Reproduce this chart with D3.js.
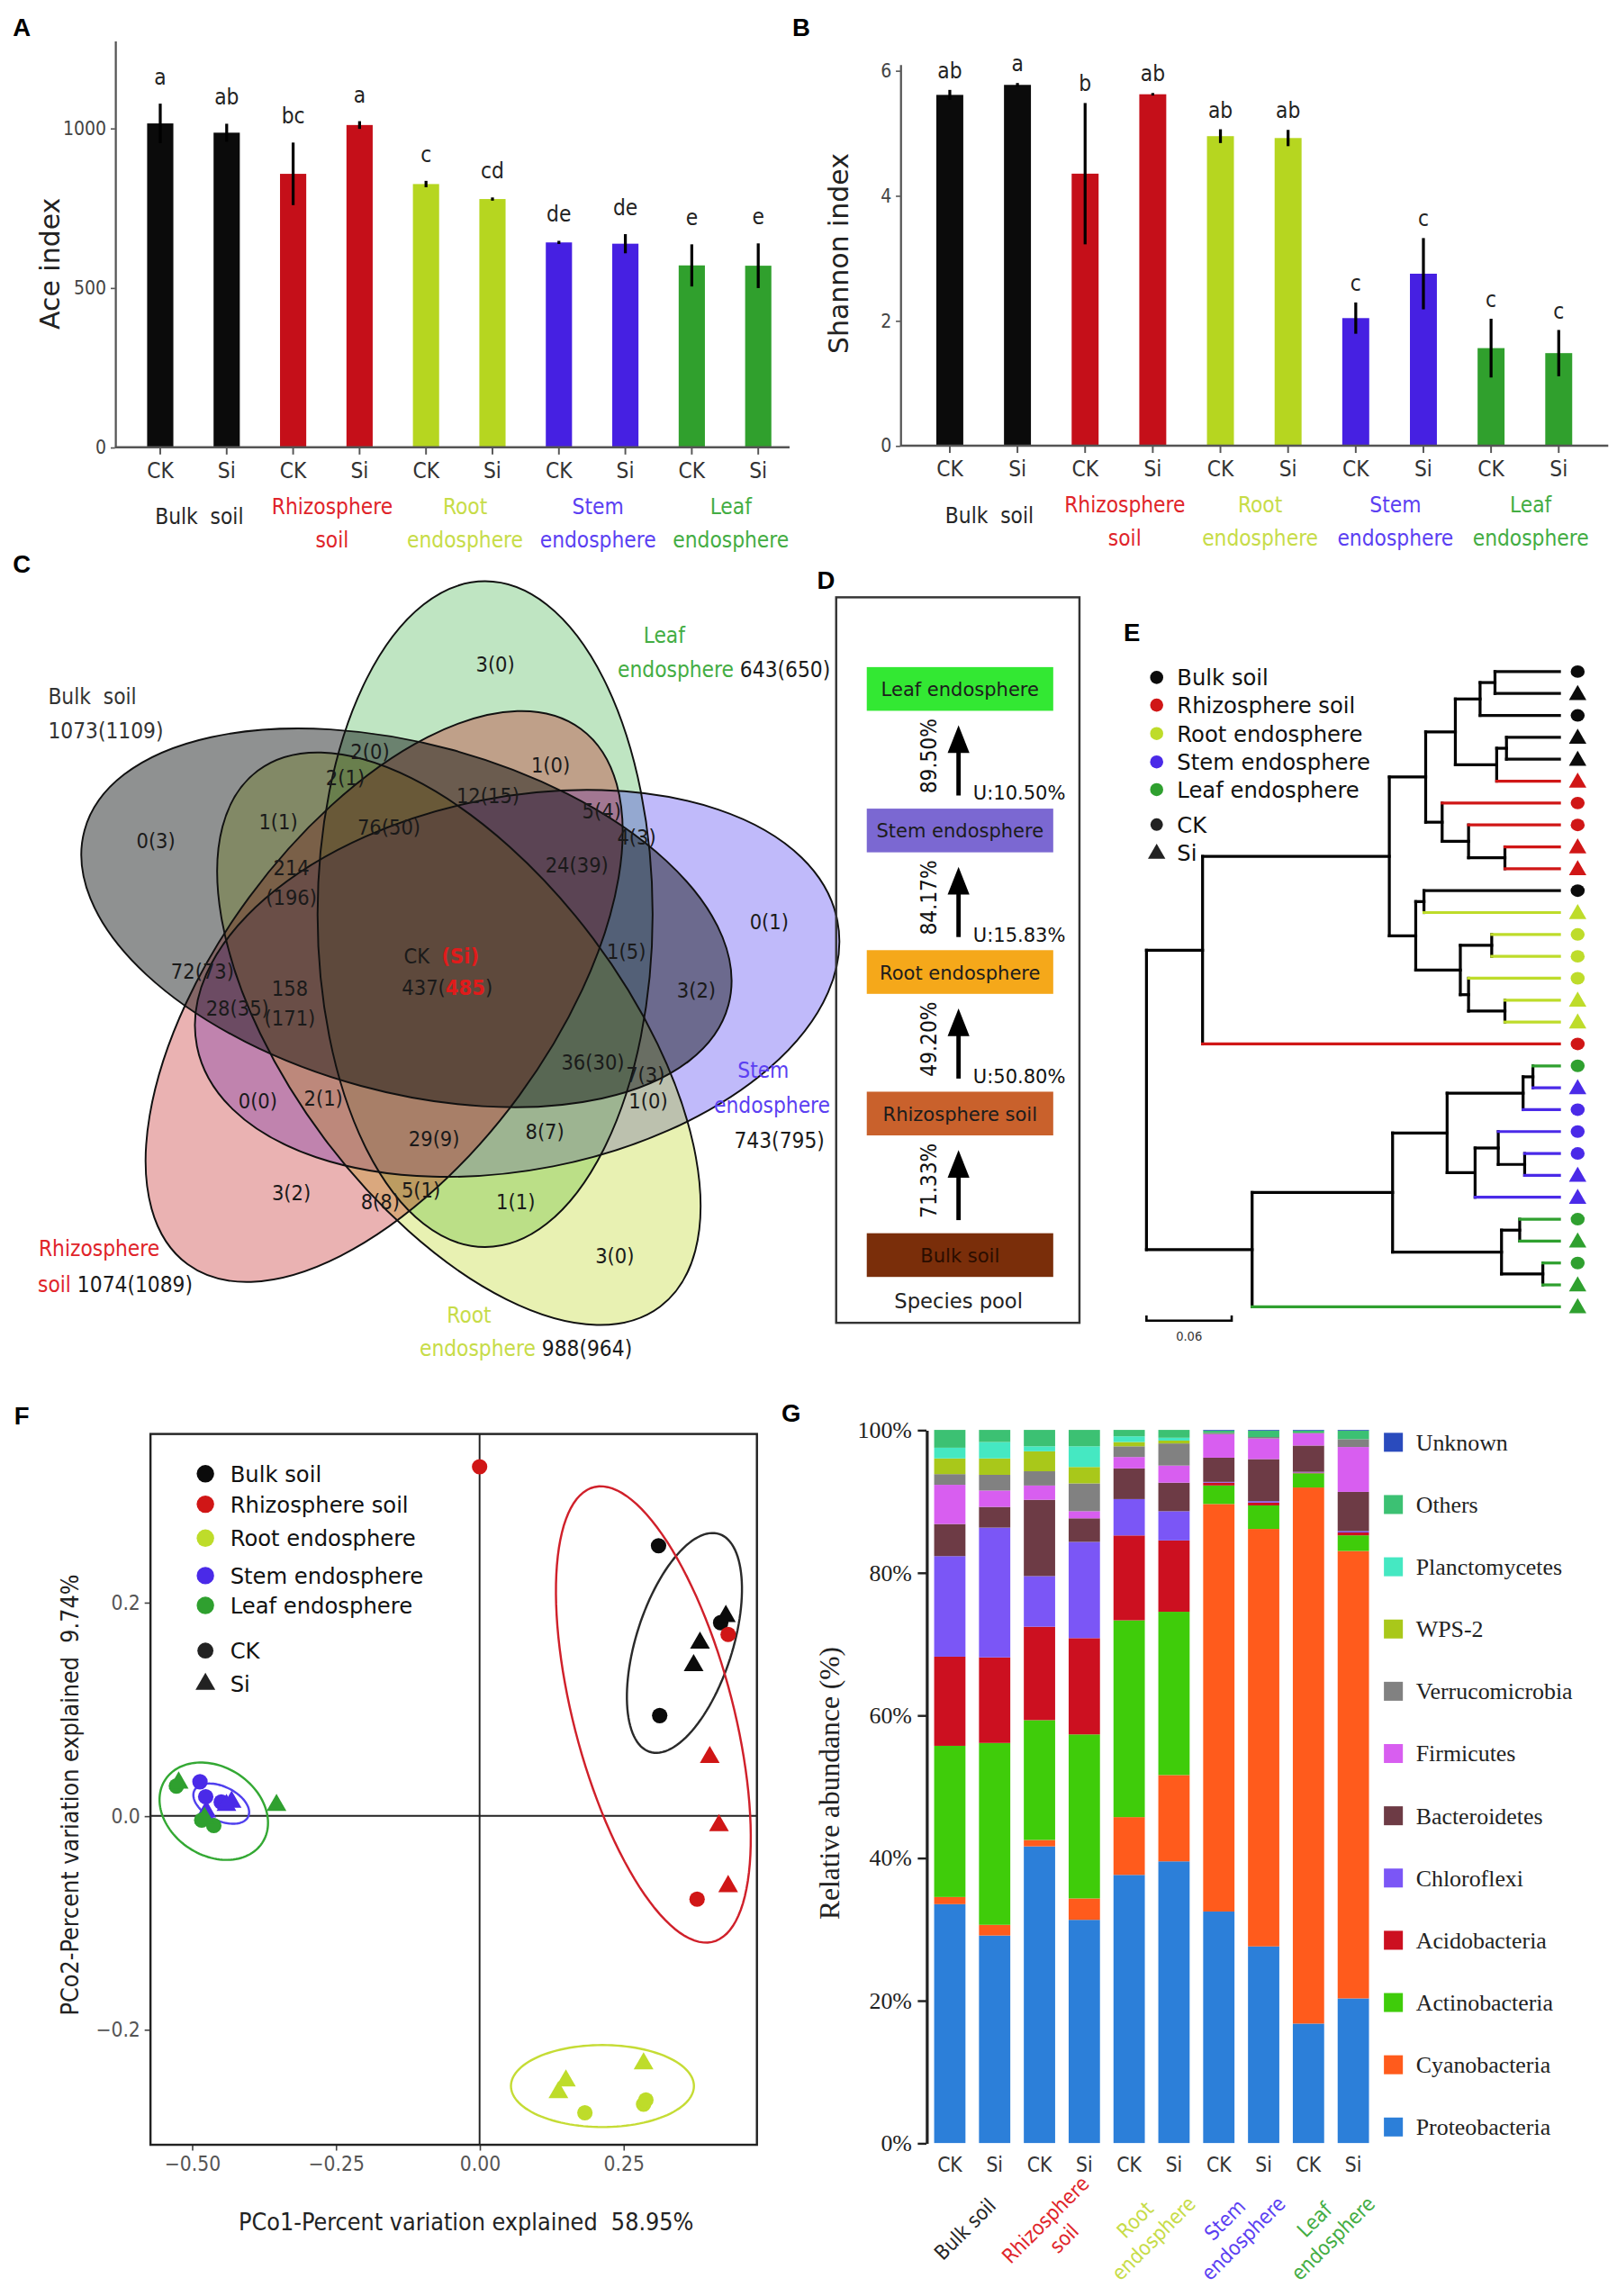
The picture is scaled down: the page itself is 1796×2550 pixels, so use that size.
<!DOCTYPE html><html>
<head>
<meta charset="utf-8">
<title>Si microbiome panels</title>
<style>
  body { margin: 0; background: #fff; }
  svg { display: block; }
</style>
</head><body>
<svg id="fig" width="1796" height="2550" viewBox="0 0 1110 1576"></svg>
<script src="https://cdn.jsdelivr.net/npm/d3@7"></script>
<script>
var NARROW = '"DejaVu Sans Condensed", "Liberation Sans Narrow", "Open Sans", sans-serif';
var VERD   = '"DejaVu Sans", Verdana, sans-serif';
var SERIF  = '"Liberation Serif", "Times New Roman", serif';
var ARIAL  = '"Liberation Sans", Arial, sans-serif';

// ---------- data ----------
var groupLines = [['Bulk  soil'], ['Rhizosphere', 'soil'], ['Root', 'endosphere'], ['Stem', 'endosphere'], ['Leaf', 'endosphere']];
var groupNames = ['Bulk soil', 'Rhizosphere soil', 'Root endosphere', 'Stem endosphere', 'Leaf endosphere'];
var treatments = ['CK', 'Si'];

// A: Ace index
var aceMean    = [1015, 986, 857, 1010, 825, 778, 642, 638, 570, 569];
var aceErr     = [62, 28, 98, 12, 10, 5, 5, 30, 66, 70];
var aceLetters = ['a', 'ab', 'bc', 'a', 'c', 'cd', 'de', 'de', 'e', 'e'];
var aceTicks   = [0, 500, 1000];

// B: Shannon index
var shannonMean    = [5.61, 5.77, 4.35, 5.62, 4.95, 4.92, 2.04, 2.75, 1.56, 1.48];
var shannonErr     = [0.08, 0.03, 1.13, 0.02, 0.11, 0.13, 0.25, 0.57, 0.47, 0.37];
var shannonLetters = ['ab', 'a', 'b', 'ab', 'ab', 'ab', 'c', 'c', 'c', 'c'];
var shannonTicks   = [0, 2, 4, 6];

// C: Venn (set order: Bulk, Leaf, Stem, Root, Rhizosphere)
var vennTotals = ['1073(1109)', '643(650)', '743(795)', '988(964)', '1074(1089)'];
var vennCounts = ['3(0)', '2(0)', '2(1)', '1(0)', '12(15)', '5(4)', '4(3)', '0(3)', '1(1)', '76(50)',
                  '24(39)', '214|(196)', '0(1)', '1(5)', '72(73)', '3(2)', '158|(171)', '28(35)', '36(30)', '7(3)',
                  '1(0)', '0(0)', '2(1)', '29(9)', '8(7)', '3(2)', '8(8)', '5(1)', '1(1)', '3(0)'];
var vennCore = [437, 485];

// D: source tracking
var sourceLevels = ['Bulk soil', 'Rhizosphere soil', 'Root endosphere', 'Stem endosphere', 'Leaf endosphere'];
var sourceShare  = [71.33, 49.20, 84.17, 89.50];
var unknownShare = [null, 50.80, 15.83, 10.50];

// E: clustering tree [height, children...]; leaves are indices
var treeDepth = 0.2908;
var tree = [0,
  [0.0395,
    [0.171,
      [0.1966,
        [0.2175, [0.2349, [0.2454, 0, 1], 2], [0.2466, [0.2535, 3, 4], 5]],
        [0.2082, 6, [0.2268, 7, [0.2524, 8, 9]]]],
      [0.1896, [0.1954, 10, 11], [0.221, [0.2431, 12, 13], [0.2268, 14, [0.2524, 15, 16]]]]],
    17],
  [0.0744,
    [0.1733,
      [0.2117, [0.2652, [0.2721, 18, 19], 20], [0.2314, [0.2477, 21, [0.2663, 22, 23]], 24]],
      [0.25, [0.2628, 25, 26], [0.2791, 27, 28]]],
    29]];
var leafGroup = [0, 0, 0, 0, 0, 1, 1, 1, 1, 1, 0, 2, 2, 2, 2, 2, 2, 1, 4, 3, 3, 3, 3, 3, 3, 4, 4, 4, 4, 4];
var leafTreat = ['CK', 'Si', 'CK', 'Si', 'Si', 'Si', 'CK', 'CK', 'Si', 'Si', 'CK', 'Si', 'CK', 'CK', 'CK',
                 'Si', 'Si', 'CK', 'CK', 'Si', 'CK', 'CK', 'CK', 'Si', 'Si', 'CK', 'Si', 'CK', 'Si', 'Si'];
var scaleBarValue = 0.06;

// F: PCoA
var pcoGroup = [0, 0, 0, 0, 0, 0, 1, 1, 1, 1, 1, 1, 2, 2, 2, 2, 2, 2, 3, 3, 3, 3, 3, 3, 4, 4, 4, 4, 4, 4];
var pcoTreat = ['CK', 'CK', 'CK', 'Si', 'Si', 'Si', 'CK', 'CK', 'CK', 'Si', 'Si', 'Si', 'CK', 'CK', 'CK', 'Si', 'Si', 'Si',
                'CK', 'CK', 'CK', 'Si', 'Si', 'Si', 'CK', 'CK', 'CK', 'Si', 'Si', 'Si'];
var pco1 = [0.311, 0.313, 0.419, 0.428, 0.383, 0.372, 0.000, 0.432, 0.378, 0.400, 0.416, 0.432,
            0.285, 0.183, 0.289, 0.285, 0.150, 0.137, -0.486, -0.476, -0.449, -0.431, -0.475, -0.440,
            -0.527, -0.483, -0.462, -0.523, -0.353, -0.478];
var pco2 = [0.253, 0.094, 0.181, 0.187, 0.162, 0.141, 0.327, 0.170, -0.078, 0.055, -0.009, -0.066,
            -0.270, -0.278, -0.266, -0.232, -0.248, -0.259, 0.032, 0.018, 0.013, 0.013, 0.004, 0.010,
            0.028, -0.004, -0.009, 0.031, 0.010, -0.002];
var ellipseCenter = [[0.356, 0.162], [0.302, 0.095], [0.2135, -0.253], [-0.449, 0.0115], [-0.462, 0.0044]];
var ellipseAxisA  = [[0.065, 0.101], [0.1085, -0.212], [0.159, 0], [0.0477, -0.011], [0.0911, -0.0219]];
var ellipseAxisB  = [[0.076, -0.020], [0.130, 0.0266], [0, 0.0384], [-0.0087, -0.0153], [-0.0243, -0.040]];
var pcoXTicks = [-0.5, -0.25, 0, 0.25];
var pcoYTicks = [-0.2, 0, 0.2];

// G: relative abundance (%), samples Bulk CK, Si, Rhizo CK, Si, Root CK, Si, Stem CK, Si, Leaf CK, Si
var phyla = ['Proteobacteria', 'Cyanobacteria', 'Actinobacteria', 'Acidobacteria', 'Chloroflexi', 'Bacteroidetes',
             'Firmicutes', 'Verrucomicrobia', 'WPS-2', 'Planctomycetes', 'Others', 'Unknown'];
var proteobacteria  = [33.5, 29.1, 41.6, 31.3, 37.6, 39.5, 32.5, 27.6, 16.8, 20.3];
var cyanobacteria   = [1.0, 1.5, 0.9, 3.0, 8.1, 12.1, 57.2, 58.6, 75.4, 62.8];
var actinobacteria  = [21.2, 25.5, 16.8, 23.0, 27.6, 22.9, 2.6, 3.3, 2.0, 2.2];
var acidobacteria   = [12.5, 12.0, 13.1, 13.5, 11.9, 10.0, 0.4, 0.4, 0.1, 0.4];
var chloroflexi     = [14.1, 18.2, 7.1, 13.5, 5.1, 4.1, 0.1, 0.2, 0.1, 0.2];
var bacteroidetes   = [4.5, 2.9, 10.7, 3.3, 4.3, 4.0, 3.4, 5.9, 3.7, 5.5];
var firmicutes      = [5.5, 2.3, 2.0, 1.0, 1.6, 2.4, 3.3, 2.9, 1.7, 6.3];
var verrucomicrobia = [1.5, 2.2, 2.0, 3.9, 1.5, 3.1, 0.2, 0.2, 0.1, 1.1];
var wps2            = [2.2, 2.3, 2.8, 2.3, 0.6, 0.4, 0.0, 0.0, 0.0, 0.0];
var planctomycetes  = [1.5, 2.3, 0.7, 2.9, 0.8, 0.4, 0.0, 0.0, 0.0, 0.0];
var others          = [2.5, 1.7, 2.3, 2.3, 0.9, 1.1, 0.3, 0.9, 0.3, 1.2];
var unknown         = [0, 0, 0, 0, 0, 0, 0.1, 0.1, 0.1, 0.1];
var abundanceTicks  = [0, 0.2, 0.4, 0.6, 0.8, 1];

// ---------- styles ----------
var barColors   = ['#0b0b0b', '#c50f19', '#b6d620', '#4620e2', '#30a02d'];
var groupText   = ['#262626', '#e0242a', '#c7dc48', '#5b3ff2', '#43ad43'];
var pointColors = ['#0b0b0b', '#d01616', '#bedc2a', '#4a2ae8', '#2fa02f'];
var phylumColors = ['#2c7fd9', '#ff5b1c', '#3fcc0a', '#cc1020', '#7b56f6', '#6d3b45',
                    '#d85ef0', '#818181', '#a9c81a', '#45e8c2', '#3cc173', '#2a4bbd'];
// Venn layout: cx, cy, rx, ry, rotation(deg) for Bulk, Leaf, Stem, Root, Rhizosphere
var vennShapes = [[279, 630, 229, 119.5, 15.2], [333, 627.5, 228.5, 115, 90], [355, 675, 224, 128, -11.1],
                  [315, 713, 230, 115, 53.1], [263.7, 684, 228, 115, -53.7]];
var vennFill  = ['#000505', '#14a01e', '#3c28f0', '#b4d200', '#be1414'];
var vennAlpha = [0.44, 0.27, 0.32, 0.30, 0.33];
var vennOrder = [1, 2, 3, 4, 0];
var levelColors = ['#7a2e0a', '#c9612c', '#f5a81a', '#7b68d2', '#33e833'];

var svg = d3.select('#fig').attr('font-family', NARROW);

// panel letters
var panelLetters = ['A', 'B', 'C', 'D', 'E', 'F', 'G'];
var letterAt = [[15, 25], [550, 25], [15, 393], [567, 404], [777, 440], [15, 978], [543, 976]];
svg.selectAll('text.plabel').data(panelLetters).join('text').attr('class', 'plabel')
  .attr('x', (d, i) => letterAt[i][0]).attr('y', (d, i) => letterAt[i][1])
  .attr('text-anchor', 'middle').attr('font-family', ARIAL).attr('font-weight', 'bold')
  .attr('font-size', 17).text(d => d);

// ---------- A / B ----------
function barPanel(mean, err, letters, ticks, o) {
  var g = svg.append('g');
  var x = d3.scalePoint().domain(d3.range(mean.length)).range(o.xRange);
  var y = d3.scaleLinear().domain(o.yDomain).range(o.yRange);
  var y0 = y(0);
  g.selectAll('rect.bar').data(mean).join('rect').attr('class', 'bar')
    .attr('x', (d, i) => x(i) - o.bw / 2).attr('width', o.bw)
    .attr('y', d => y(d)).attr('height', d => y0 - y(d))
    .attr('fill', (d, i) => barColors[Math.floor(i / 2)]);
  g.selectAll('line.err').data(mean).join('line').attr('class', 'err')
    .attr('x1', (d, i) => x(i)).attr('x2', (d, i) => x(i))
    .attr('y1', (d, i) => y(d + err[i])).attr('y2', (d, i) => y(d - err[i]))
    .attr('stroke', '#000').attr('stroke-width', 2);
  g.selectAll('text.sig').data(letters).join('text').attr('class', 'sig')
    .attr('x', (d, i) => x(i)).attr('y', (d, i) => y(mean[i] + err[i]) - o.gap)
    .attr('text-anchor', 'middle').attr('font-size', 15).attr('fill', '#222').text(d => d);

  var ax = g.append('g').attr('transform', 'translate(' + o.axisX + ',0)')
    .call(d3.axisLeft(y).tickValues(ticks).tickFormat(d3.format('d')).tickSize(3).tickSizeOuter(0).tickPadding(3));
  ax.select('.domain').attr('stroke', '#555').attr('stroke-width', 1.4);
  ax.selectAll('.tick line').attr('stroke', '#555');
  ax.selectAll('.tick text').attr('font-size', 13).attr('fill', '#444').attr('font-family', NARROW);

  g.append('line').attr('x1', o.axisX).attr('x2', o.xEnd).attr('y1', y0).attr('y2', y0)
    .attr('stroke', '#555').attr('stroke-width', 1.6);
  g.selectAll('line.xt').data(mean).join('line').attr('class', 'xt')
    .attr('x1', (d, i) => x(i)).attr('x2', (d, i) => x(i)).attr('y1', y0).attr('y2', y0 + 5)
    .attr('stroke', '#555').attr('stroke-width', 1.2);
  g.selectAll('text.tr').data(mean).join('text').attr('class', 'tr')
    .attr('x', (d, i) => x(i)).attr('y', y0 + 21)
    .attr('text-anchor', 'middle').attr('font-size', 15).attr('fill', '#333')
    .text((d, i) => treatments[i % 2]);

  groupLines.forEach(function (lines, gi) {
    var cx = (x(gi * 2) + x(gi * 2 + 1)) / 2 + 4;
    var t = g.append('text').attr('text-anchor', 'middle').attr('font-size', 15)
      .attr('fill', groupText[gi]).style('white-space', 'pre');
    var ty = lines.length === 1 ? y0 + 53 : y0 + 46;
    lines.forEach(function (l, li) { t.append('tspan').attr('x', cx).attr('y', ty + li * 22.5).text(l); });
  });

  g.append('text').attr('transform', 'translate(' + o.labelX + ',' + o.labelY + ') rotate(-90)')
    .attr('text-anchor', 'middle').attr('font-family', VERD).attr('font-size', 18.5)
    .attr('fill', '#222').text(o.label);
}

barPanel(aceMean, aceErr, aceLetters, aceTicks, {
  xRange: [110, 520.5], yDomain: [0, 1274], yRange: [307, 28], bw: 18, gap: 13,
  axisX: 79, xEnd: 542, label: 'Ace index', labelX: 41, labelY: 181
});
barPanel(shannonMean, shannonErr, shannonLetters, shannonTicks, {
  xRange: [652, 1070], yDomain: [0, 6.1], yRange: [305.9, 44.1], bw: 18.5, gap: 8,
  axisX: 618, xEnd: 1104, label: 'Shannon index', labelX: 582, labelY: 174
});

// ---------- C: Venn ----------
(function () {
  var g = svg.append('g');
  function ell(sel, k) {
    var s = vennShapes[k];
    return sel.attr('cx', s[0]).attr('cy', s[1]).attr('rx', s[2]).attr('ry', s[3])
      .attr('transform', 'rotate(' + s[4] + ' ' + s[0] + ' ' + s[1] + ')');
  }
  vennOrder.forEach(function (k) {
    ell(g.append('ellipse'), k).attr('fill', vennFill[k]).attr('fill-opacity', vennAlpha[k]);
  });
  vennOrder.forEach(function (k) {
    ell(g.append('ellipse'), k).attr('fill', 'none').attr('stroke', '#111').attr('stroke-width', 1.2);
  });
  var labelAt = [[340, 456], [254, 516], [237, 534], [378, 525], [335, 546], [413, 557], [437, 575],
                 [107, 577], [191, 564], [267, 568], [396, 594], [200, 606], [528, 633], [430, 653],
                 [139, 667], [478, 680], [199, 689], [163, 692], [407, 729], [443, 738], [445, 756],
                 [177, 756], [222, 754], [298, 782], [374, 777], [200, 819], [261, 825], [289, 817],
                 [354, 825], [422, 862]];
  vennCounts.forEach(function (c, i) {
    var parts = c.split('|');
    var t = g.append('text').attr('text-anchor', 'middle').attr('font-size', 14.5).attr('fill', '#1a1a1a');
    parts.forEach(function (p, j) {
      t.append('tspan').attr('x', labelAt[i][0])
        .attr('y', labelAt[i][1] + 5 + (j - (parts.length - 1) / 2) * 20.5).text(p);
    });
  });
  var core = g.append('text').attr('text-anchor', 'middle').attr('font-size', 14.5).attr('fill', '#1a1a1a')
    .style('white-space', 'pre');
  core.append('tspan').attr('x', 303).attr('y', 661).text('CK  ');
  core.append('tspan').attr('fill', '#e01b1b').attr('font-weight', 'bold').text('(Si)');
  var core2 = g.append('text').attr('text-anchor', 'middle').attr('font-size', 14.5).attr('fill', '#1a1a1a');
  core2.append('tspan').attr('x', 307).attr('y', 683).text(vennCore[0] + '(');
  core2.append('tspan').attr('fill', '#e01b1b').attr('font-weight', 'bold').text(vennCore[1]);
  core2.append('tspan').text(')');

  function setLabel(lines, anchor, color) {
    var t = g.append('text').attr('font-size', 15).attr('text-anchor', anchor).style('white-space', 'pre');
    lines.forEach(function (l) {
      t.append('tspan').attr('x', l.x).attr('y', l.y).attr('fill', color).text(l.a);
      if (l.b) t.append('tspan').attr('fill', '#1a1a1a').text(l.b);
    });
  }
  setLabel([{ x: 33, y: 483, a: 'Bulk  soil' }, { x: 33, y: 507, a: vennTotals[0] }], 'start', '#333');
  setLabel([{ x: 456, y: 441, a: groupLines[4][0] }], 'middle', groupText[4]);
  setLabel([{ x: 424, y: 465, a: groupLines[4][1], b: ' ' + vennTotals[1] }], 'start', groupText[4]);
  setLabel([{ x: 524, y: 740, a: groupLines[3][0] }, { x: 530, y: 764, a: groupLines[3][1] }], 'middle', groupText[3]);
  setLabel([{ x: 535, y: 788, a: vennTotals[2] }], 'middle', '#1a1a1a');
  setLabel([{ x: 68, y: 862, a: groupLines[1][0] }], 'middle', groupText[1]);
  setLabel([{ x: 26, y: 887, a: groupLines[1][1], b: ' ' + vennTotals[4] }], 'start', groupText[1]);
  setLabel([{ x: 322, y: 908, a: groupLines[2][0] }], 'middle', groupText[2]);
  setLabel([{ x: 288, y: 931, a: groupLines[2][1], b: ' ' + vennTotals[3] }], 'start', groupText[2]);
})();

// ---------- D: source tracking ----------
(function () {
  var g = svg.append('g');
  g.append('rect').attr('x', 574).attr('y', 410).attr('width', 167).attr('height', 498)
    .attr('fill', 'none').attr('stroke', '#333').attr('stroke-width', 1.5);
  var levelY = d3.scaleLinear().domain([0, sourceLevels.length - 1]).range([846.5, 457.9]);
  var rh = 30, rx = 595, rw = 128, cx = 658;
  g.selectAll('rect.lv').data(sourceLevels).join('rect').attr('class', 'lv')
    .attr('x', rx).attr('y', (d, i) => levelY(i)).attr('width', rw).attr('height', rh)
    .attr('fill', (d, i) => levelColors[i]);
  g.selectAll('text.lv').data(sourceLevels).join('text').attr('class', 'lv')
    .attr('x', rx + rw / 2).attr('y', (d, i) => levelY(i) + rh / 2 + 5)
    .attr('text-anchor', 'middle').attr('font-family', VERD).attr('font-size', 13)
    .attr('fill', (d, i) => i === 0 ? '#2a0d00' : '#1c1c1c').text(d => d);
  g.append('text').attr('x', cx).attr('y', 898).attr('text-anchor', 'middle')
    .attr('font-family', VERD).attr('font-size', 14).attr('fill', '#222').text('Species pool');
  sourceShare.forEach(function (v, k) {
    var bottom = levelY(k) - 9, top = levelY(k + 1) + rh + 10;
    g.append('line').attr('x1', cx).attr('x2', cx).attr('y1', bottom).attr('y2', top + 14)
      .attr('stroke', '#000').attr('stroke-width', 3);
    var p = d3.path();
    p.moveTo(cx, top); p.lineTo(cx - 7.5, top + 19); p.lineTo(cx + 7.5, top + 19); p.closePath();
    g.append('path').attr('d', p.toString()).attr('fill', '#000');
    g.append('text').attr('transform', 'translate(' + (cx - 15) + ',' + ((top + bottom) / 2 - 3) + ') rotate(-90)')
      .attr('text-anchor', 'middle').attr('font-size', 15).attr('fill', '#111')
      .text(v.toFixed(2) + '%');
    if (unknownShare[k] !== null) {
      g.append('text').attr('x', cx + 10).attr('y', bottom + 3).attr('font-family', VERD)
        .attr('font-size', 13).attr('fill', '#111').text('U:' + unknownShare[k].toFixed(2) + '%');
    }
  });
})();

// ---------- E: tree ----------
(function () {
  var g = svg.append('g');
  function toNode(t) { return typeof t === 'number' ? { leaf: t } : { h: t[0], children: t.slice(1).map(toNode) }; }
  var root = d3.hierarchy(toNode(tree));
  var leafY = d3.scaleLinear().domain([0, leafGroup.length - 1]).range([461, 897]);
  var xT = d3.scaleLinear().domain([0, treeDepth]).range([787, 1070.5]);
  root.eachAfter(function (n) {
    if (n.data.leaf !== undefined) { n.py = leafY(n.data.leaf); n.px = xT(treeDepth); }
    else { n.py = (n.children[0].py + n.children[n.children.length - 1].py) / 2; n.px = xT(n.data.h); }
  });
  root.descendants().forEach(function (n) {
    if (n.parent) {
      g.append('line').attr('x1', n.parent.px).attr('x2', n.px).attr('y1', n.py).attr('y2', n.py)
        .attr('stroke', n.data.leaf !== undefined ? pointColors[leafGroup[n.data.leaf]] : '#000')
        .attr('stroke-width', 2).attr('stroke-linecap', 'square');
    }
    if (n.children) {
      g.append('line').attr('x1', n.px).attr('x2', n.px)
        .attr('y1', n.children[0].py).attr('y2', n.children[n.children.length - 1].py)
        .attr('stroke', '#000').attr('stroke-width', 2).attr('stroke-linecap', 'square');
    }
  });
  var tri = d3.symbol().type(d3.symbolTriangle).size(62);
  g.selectAll('g.leaf').data(leafGroup).join('g').attr('class', 'leaf')
    .attr('transform', (d, i) => 'translate(1083,' + leafY(i) + ')')
    .each(function (d, i) {
      var s = d3.select(this);
      if (leafTreat[i] === 'CK') s.append('ellipse').attr('rx', 4.8).attr('ry', 4.3).attr('fill', pointColors[d]);
      else s.append('path').attr('d', tri()).attr('transform', 'translate(0,1)').attr('fill', pointColors[d]);
    });
  // scale bar
  g.append('path').attr('d', 'M' + xT(0) + ',903V906.5H' + xT(scaleBarValue) + 'V903')
    .attr('fill', 'none').attr('stroke', '#000').attr('stroke-width', 1.6);
  g.append('text').attr('x', (xT(0) + xT(scaleBarValue)) / 2).attr('y', 920).attr('text-anchor', 'middle')
    .attr('font-size', 9).attr('fill', '#333').text(scaleBarValue.toFixed(2));
  // legend
  var legY = [465, 484, 503.5, 523, 542];
  groupNames.forEach(function (n, i) {
    g.append('circle').attr('cx', 794).attr('cy', legY[i]).attr('r', 4.5).attr('fill', pointColors[i]);
    g.append('text').attr('x', 808).attr('y', legY[i] + 5.5).attr('font-family', VERD).attr('font-size', 15)
      .attr('fill', '#111').text(n);
  });
  g.append('circle').attr('cx', 794).attr('cy', 566).attr('r', 4.3).attr('fill', '#222');
  g.append('text').attr('x', 808).attr('y', 571.5).attr('font-family', VERD).attr('font-size', 15).attr('fill', '#111').text('CK');
  g.append('path').attr('d', tri()).attr('transform', 'translate(794,586)').attr('fill', '#222');
  g.append('text').attr('x', 808).attr('y', 591).attr('font-family', VERD).attr('font-size', 15).attr('fill', '#111').text('Si');
})();

// ---------- F: PCoA ----------
(function () {
  var g = svg.append('g');
  var x = d3.scaleLinear().domain([-0.572, 0.482]).range([103.3, 519.6]);
  var y = d3.scaleLinear().domain([-0.308, 0.3577]).range([1472.2, 984.3]);
  var ax = g.append('g').attr('transform', 'translate(0,' + y(-0.308) + ')')
    .call(d3.axisBottom(x).tickValues(pcoXTicks).tickFormat(d3.format('.2f')).tickSize(4).tickSizeOuter(0).tickPadding(4));
  var ay = g.append('g').attr('transform', 'translate(' + x(-0.572) + ',0)')
    .call(d3.axisLeft(y).tickValues(pcoYTicks).tickFormat(d3.format('.1f')).tickSize(4).tickSizeOuter(0).tickPadding(3));
  [ax, ay].forEach(function (a) {
    a.select('.domain').remove();
    a.selectAll('.tick line').attr('stroke', '#444');
    a.selectAll('.tick text').attr('font-size', 14).attr('fill', '#555').attr('font-family', NARROW);
  });
  g.append('rect').attr('x', x(-0.572)).attr('y', y(0.3577)).attr('width', x(0.482) - x(-0.572))
    .attr('height', y(-0.308) - y(0.3577)).attr('fill', 'none').attr('stroke', '#222').attr('stroke-width', 1.5);
  g.append('line').attr('x1', x(0)).attr('x2', x(0)).attr('y1', y(0.3577)).attr('y2', y(-0.308)).attr('stroke', '#222').attr('stroke-width', 1.2);
  g.append('line').attr('x1', x(-0.572)).attr('x2', x(0.482)).attr('y1', y(0)).attr('y2', y(0)).attr('stroke', '#222').attr('stroke-width', 1.2);

  var ellColors = ['#2a2a2a', '#d0202a', '#c5dc35', '#5040ee', '#33a833'];
  var line = d3.line().curve(d3.curveLinearClosed);
  ellipseCenter.forEach(function (c, k) {
    var pts = d3.range(0, 2 * Math.PI, Math.PI / 60).map(function (t) {
      return [x(c[0] + ellipseAxisA[k][0] * Math.cos(t) + ellipseAxisB[k][0] * Math.sin(t)),
              y(c[1] + ellipseAxisA[k][1] * Math.cos(t) + ellipseAxisB[k][1] * Math.sin(t))];
    });
    g.append('path').attr('d', line(pts)).attr('fill', 'none').attr('stroke', ellColors[k]).attr('stroke-width', 1.5);
  });
  var tri = d3.symbol().type(d3.symbolTriangle).size(80);
  pco1.forEach(function (v, i) {
    var col = pointColors[pcoGroup[i]];
    if (pcoTreat[i] === 'CK') g.append('circle').attr('cx', x(v)).attr('cy', y(pco2[i])).attr('r', 5.3).attr('fill', col);
    else g.append('path').attr('d', tri()).attr('transform', 'translate(' + x(v) + ',' + y(pco2[i]) + ')').attr('fill', col);
  });
  var legY = [1011.6, 1032.5, 1055.8, 1081.5, 1102];
  groupNames.forEach(function (n, i) {
    g.append('circle').attr('cx', 141).attr('cy', legY[i]).attr('r', 6).attr('fill', pointColors[i]);
    g.append('text').attr('x', 158).attr('y', legY[i] + 5.5).attr('font-family', VERD).attr('font-size', 15).attr('fill', '#111').text(n);
  });
  g.append('circle').attr('cx', 141).attr('cy', 1133).attr('r', 5.5).attr('fill', '#222');
  g.append('text').attr('x', 158).attr('y', 1138.5).attr('font-family', VERD).attr('font-size', 15).attr('fill', '#111').text('CK');
  g.append('path').attr('d', tri()).attr('transform', 'translate(141,1156)').attr('fill', '#222');
  g.append('text').attr('x', 158).attr('y', 1161).attr('font-family', VERD).attr('font-size', 15).attr('fill', '#111').text('Si');

  g.append('text').attr('x', 320).attr('y', 1531).attr('text-anchor', 'middle').attr('font-size', 16.5)
    .attr('fill', '#222').style('white-space', 'pre').text('PCo1-Percent variation explained  58.95%');
  g.append('text').attr('transform', 'translate(54,1232) rotate(-90)').attr('text-anchor', 'middle')
    .attr('font-size', 16.5).attr('fill', '#222').style('white-space', 'pre')
    .text('PCo2-Percent variation explained  9.74%');
})();

// ---------- G: stacked bars ----------
(function () {
  var g = svg.append('g');
  var values = [proteobacteria, cyanobacteria, actinobacteria, acidobacteria, chloroflexi, bacteroidetes,
                firmicutes, verrucomicrobia, wps2, planctomycetes, others, unknown];
  var samples = d3.range(proteobacteria.length);
  var table = samples.map(function (i) {
    var r = {}; phyla.forEach(function (p, k) { r[p] = values[k][i]; }); return r;
  });
  var series = d3.stack().keys(phyla).offset(d3.stackOffsetExpand)(table);
  var x = d3.scalePoint().domain(samples).range([652, 929]);
  var y = d3.scaleLinear().domain([0, 1]).range([1471, 981.5]);
  var bw = 21.5;
  g.selectAll('g.s').data(series).join('g').attr('class', 's')
    .attr('fill', (d, k) => phylumColors[k])
    .selectAll('rect').data(d => d).join('rect')
    .attr('x', (d, i) => x(i) - bw / 2).attr('width', bw)
    .attr('y', d => y(d[1])).attr('height', d => Math.max(0, y(d[0]) - y(d[1])));
  var ay = g.append('g').attr('transform', 'translate(636,0)')
    .call(d3.axisLeft(y).tickValues(abundanceTicks).tickFormat(d3.format('.0%')).tickSize(6).tickSizeOuter(0).tickPadding(4));
  ay.select('.domain').attr('stroke', '#222').attr('stroke-width', 2);
  ay.selectAll('.tick line').attr('stroke', '#222').attr('stroke-width', 1.5);
  ay.selectAll('.tick text').attr('font-size', 16).attr('fill', '#222').attr('font-family', SERIF);
  g.append('text').attr('transform', 'translate(576,1224) rotate(-90)').attr('text-anchor', 'middle')
    .attr('font-family', SERIF).attr('font-size', 19.5).attr('fill', '#222').text('Relative abundance (%)');
  g.selectAll('text.tr').data(samples).join('text').attr('class', 'tr')
    .attr('x', d => x(d)).attr('y', 1491).attr('text-anchor', 'middle').attr('font-size', 14).attr('fill', '#333')
    .text(d => treatments[d % 2]);
  groupLines.forEach(function (lines, gi) {
    var cx = (x(gi * 2) + x(gi * 2 + 1)) / 2 - 5;
    var t = g.append('text').attr('transform', 'translate(' + cx + ',1530) rotate(-45)')
      .attr('text-anchor', 'middle').attr('font-size', 14).attr('fill', groupText[gi]).style('white-space', 'pre');
    lines.forEach(function (l, li) {
      t.append('tspan').attr('x', 0).attr('y', 5 + (li - (lines.length - 1) / 2) * 18).text(l.replace('  ', ' '));
    });
  });
  var legY = d3.scalePoint().domain(phyla.slice().reverse()).range([990, 1460]);
  phyla.forEach(function (p, k) {
    g.append('rect').attr('x', 950).attr('y', legY(p) - 6.5).attr('width', 13).attr('height', 13).attr('fill', phylumColors[k]);
    g.append('text').attr('x', 972).attr('y', legY(p) + 5.5).attr('font-family', SERIF).attr('font-size', 16)
      .attr('fill', '#222').text(p);
  });
})();
</script>
</body></html>
